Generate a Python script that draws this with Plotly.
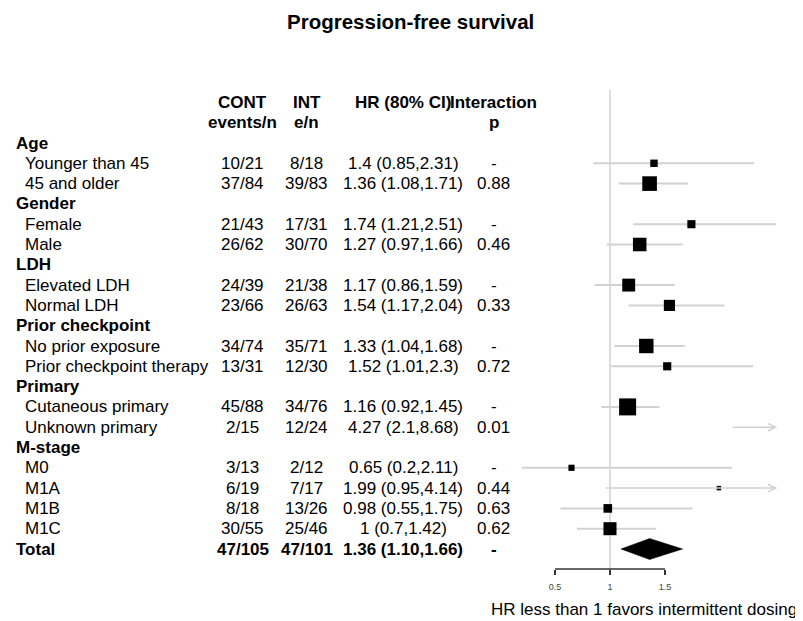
import plotly.graph_objects as go

# ---------------- data ----------------
LABELS = ["Age", "Younger than 45", "45 and older",
          "Gender", "Female", "Male",
          "LDH", "Elevated LDH", "Normal LDH",
          "Prior checkpoint", "No prior exposure", "Prior checkpoint therapy",
          "Primary", "Cutaneous primary", "Unknown primary",
          "M-stage", "M0", "M1A", "M1B", "M1C",
          "Total"]
ROW_KIND = ["group", "item", "item",
            "group", "item", "item",
            "group", "item", "item",
            "group", "item", "item",
            "group", "item", "item",
            "group", "item", "item", "item", "item",
            "summary"]
CONT_EN = [None, "10/21", "37/84", None, "21/43", "26/62", None, "24/39", "23/66",
           None, "34/74", "13/31", None, "45/88", "2/15", None, "3/13", "6/19", "8/18", "30/55",
           "47/105"]
INT_EN = [None, "8/18", "39/83", None, "17/31", "30/70", None, "21/38", "26/63",
          None, "35/71", "12/30", None, "34/76", "12/24", None, "2/12", "7/17", "13/26", "25/46",
          "47/101"]
HR = [None, 1.4, 1.36, None, 1.74, 1.27, None, 1.17, 1.54,
      None, 1.33, 1.52, None, 1.16, 4.27, None, 0.65, 1.99, 0.98, 1.0,
      1.36]
LO = [None, 0.85, 1.08, None, 1.21, 0.97, None, 0.86, 1.17,
      None, 1.04, 1.01, None, 0.92, 2.1, None, 0.2, 0.95, 0.55, 0.7,
      1.10]
HI = [None, 2.31, 1.71, None, 2.51, 1.66, None, 1.59, 2.04,
      None, 1.68, 2.3, None, 1.45, 8.68, None, 2.11, 4.14, 1.75, 1.42,
      1.66]
HR_TEXT = [None, "1.4 (0.85,2.31)", "1.36 (1.08,1.71)", None, "1.74 (1.21,2.51)", "1.27 (0.97,1.66)",
           None, "1.17 (0.86,1.59)", "1.54 (1.17,2.04)", None, "1.33 (1.04,1.68)", "1.52 (1.01,2.3)",
           None, "1.16 (0.92,1.45)", "4.27 (2.1,8.68)", None, "0.65 (0.2,2.11)", "1.99 (0.95,4.14)",
           "0.98 (0.55,1.75)", "1 (0.7,1.42)", "1.36 (1.10,1.66)"]
P_INTERACTION = [None, "-", "0.88", None, "-", "0.46", None, "-", "0.33",
                 None, "-", "0.72", None, "-", "0.01", None, "-", "0.44", "0.63", "0.62",
                 "-"]
HEADER_1 = ["CONT", "INT", "HR (80% CI)", "Interaction"]
HEADER_2 = ["events/n", "e/n", "", "p"]
TITLE = "Progression-free survival"
X_TITLE = "HR less than 1 favors intermittent dosing"
TICKS = [0.5, 1, 1.5]
TICK_TEXT = ["0.5", "1", "1.5"]
REF_VALUE = 1

# ---------------- layout helpers ----------------
# page body has an 8px margin: the figure is drawn 8px in, so shrink it and offset coordinates
PAGE_OFF = 8
W, H = 803 - PAGE_OFF, 621 - PAGE_OFF
FONT = "Liberation Sans, Arial, sans-serif"
def px(p):
    return (p - PAGE_OFF) / W
def py(p):
    return 1 - (p - PAGE_OFF) / H

ROW0_PX, ROW_STEP = 143.0, 20.3
Y_TOP_PX, Y_BOT_PX = 90.0, 569.0
Y_RANGE = [(Y_BOT_PX - ROW0_PX) / ROW_STEP, (Y_TOP_PX - ROW0_PX) / ROW_STEP]

X_LEFT_PX, X_RIGHT_PX = 480.0, 803.0
REF_PX, UNIT_PX = 610.0, 110.0
X_RANGE = [REF_VALUE + (X_LEFT_PX - REF_PX) / UNIT_PX, REF_VALUE + (X_RIGHT_PX - REF_PX) / UNIT_PX]
CLIP = 2.52

CI_COLOR = "#d2d2d2"
COL_X = [242.5, 306.5, 403.0, 493.5]

fig = go.Figure()

# CI lines and arrows
xs, ys = [], []
arrows = []
for i, kind in enumerate(ROW_KIND):
    if kind != "item":
        continue
    a = max(LO[i], X_RANGE[0])
    if HI[i] > CLIP:
        arrows.append((a, i))
    else:
        xs += [a, HI[i], None]
        ys += [i, i, None]
fig.add_trace(go.Scatter(x=xs, y=ys, mode="lines", line=dict(color=CI_COLOR, width=2),
                         hoverinfo="skip", showlegend=False))
for a, i in arrows:
    fig.add_annotation(x=CLIP, y=i, ax=a, ay=i, xref="x", yref="y", axref="x", ayref="y",
                       text="", showarrow=True, arrowhead=5, arrowsize=1, arrowwidth=1.5,
                       arrowcolor=CI_COLOR, standoff=0, startstandoff=0)

# boxes: size from inverse CI width
item_idx = [i for i, k in enumerate(ROW_KIND) if k == "item"]
min_w = min(HI[i] - LO[i] for i in item_idx)
bx, by, bs = [], [], []
for i in item_idx:
    if X_RANGE[0] <= HR[i] <= CLIP:
        info = min_w / (HI[i] - LO[i])
        bx.append(HR[i]); by.append(i); bs.append(15.0 * info + 2.0)
fig.add_trace(go.Scatter(x=bx, y=by, mode="markers",
                         marker=dict(symbol="square", size=bs, color="black", opacity=1,
                                     line=dict(width=0)),
                         hoverinfo="skip", showlegend=False))

# summary diamond
half_h = 10.5 / ROW_STEP
for i, k in enumerate(ROW_KIND):
    if k == "summary":
        fig.add_trace(go.Scatter(x=[LO[i], HR[i], HI[i], HR[i], LO[i]],
                                 y=[i, i - half_h, i, i + half_h, i],
                                 mode="lines", fill="toself", fillcolor="black",
                                 line=dict(color="black", width=0.5),
                                 hoverinfo="skip", showlegend=False))

# reference line and axis line
fig.add_shape(type="line", xref="x", yref="paper", x0=REF_VALUE, x1=REF_VALUE,
              y0=py(Y_BOT_PX), y1=py(Y_TOP_PX), line=dict(color=CI_COLOR, width=1.5), layer="below")
fig.add_shape(type="line", xref="x", yref="paper", x0=min(TICKS), x1=max(TICKS),
              y0=py(Y_BOT_PX), y1=py(Y_BOT_PX), line=dict(color="#333333", width=1.5))

def txt(text, x, y, anchor="center", bold=False, size=17, yref="y"):
    fig.add_annotation(text=f"<b>{text}</b>" if bold else text, x=x, y=y, xref="paper", yref=yref,
                       xanchor=anchor, yanchor="middle", showarrow=False,
                       font=dict(family=FONT, size=size, color="black"))

# column headers
for j, (h1, h2) in enumerate(zip(HEADER_1, HEADER_2)):
    txt(h1, px(COL_X[j]), -2, bold=True)
    if h2:
        txt(h2, px(COL_X[j]), -1, bold=True)

# table body
for i, k in enumerate(ROW_KIND):
    bold = k != "item"
    lx = 14 if k != "item" else 23
    txt(LABELS[i], px(lx), i, anchor="left", bold=bold)
    for j, col in enumerate([CONT_EN, INT_EN, HR_TEXT, P_INTERACTION]):
        if col[i] is not None:
            txt(col[i], px(COL_X[j]), i, bold=bold)

# titles
txt(TITLE, px(410), py(21.5), bold=True, size=20.5, yref="paper")
txt(X_TITLE, px(644), py(609), size=17, yref="paper")

fig.update_layout(
    width=W, height=H, autosize=False,
    margin=dict(l=0, r=0, t=0, b=0),
    paper_bgcolor="white", plot_bgcolor="white",
    showlegend=False,
    xaxis=dict(domain=[px(X_LEFT_PX), 1.0], range=X_RANGE,
               tickvals=TICKS, ticktext=TICK_TEXT, ticks="outside", ticklen=5, tickwidth=1.5,
               tickcolor="#333333", tickfont=dict(family=FONT, size=9, color="#444444"),
               ticklabelstandoff=4,
               showgrid=False, zeroline=False, showline=False, fixedrange=True),
    yaxis=dict(domain=[py(Y_BOT_PX), py(Y_TOP_PX)], range=Y_RANGE,
               showticklabels=False, ticks="", showgrid=False, zeroline=False, showline=False,
               fixedrange=True),
)

fig.write_html("out.html")
